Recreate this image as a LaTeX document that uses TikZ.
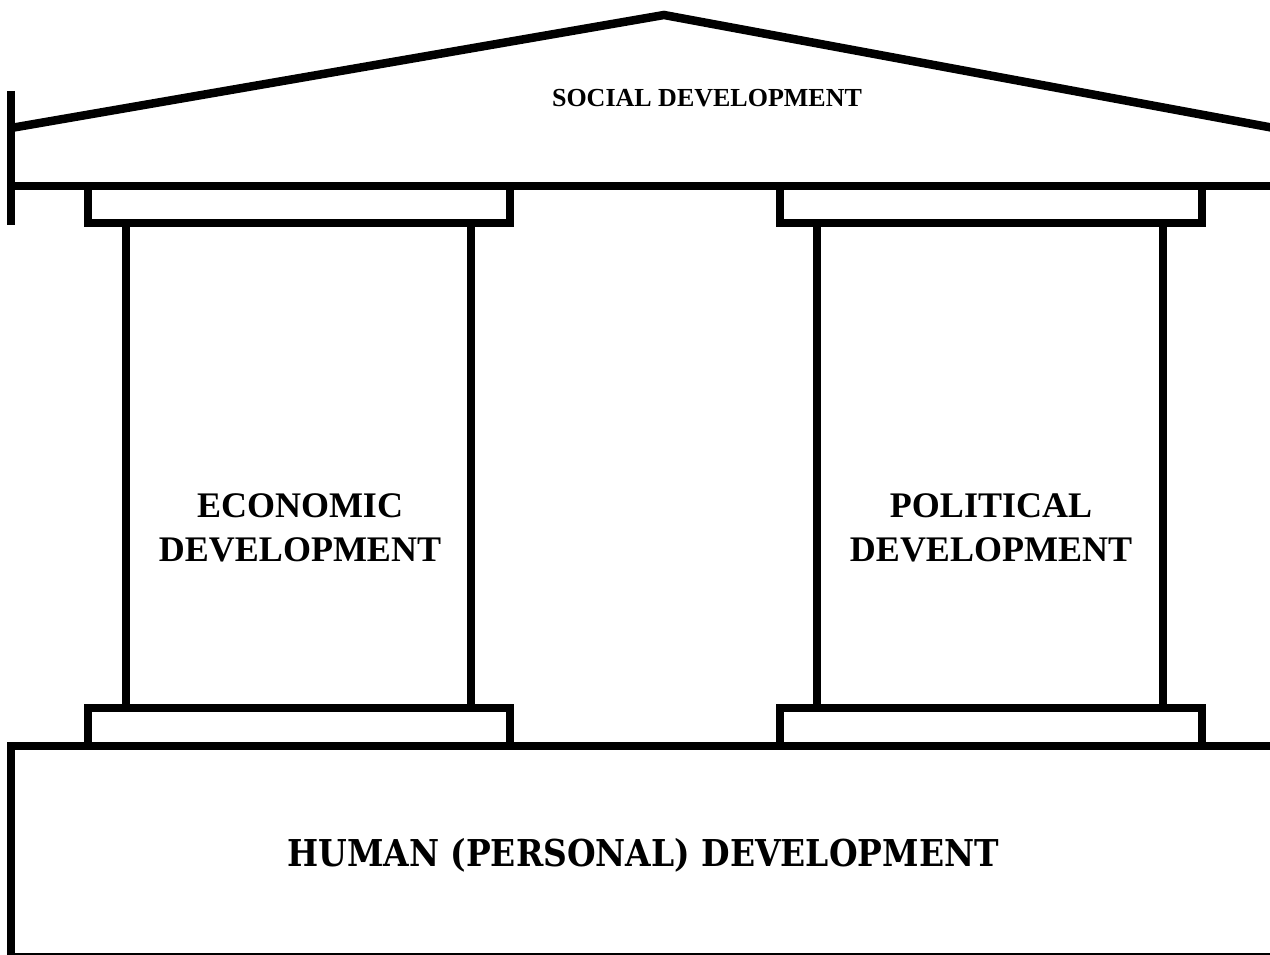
\documentclass[tikz,border=0pt]{standalone}
\usepackage{fontspec}
\setmainfont{Liberation Serif}
\newfontfamily\slabfont{DejaVu Serif}[FakeStretch=0.89]
\begin{document}
\begin{tikzpicture}[x=1pt,y=-1pt,
  wall/.style={line width=8.5pt,line join=miter,draw=black},
  block/.style={wall,fill=white},
  roofsign/.style={font=\bfseries\fontsize{26}{31}\selectfont},
  pillarsign/.style={font=\bfseries\fontsize{36}{44}\selectfont,align=center},
  basesign/.style={font=\slabfont\bfseries\fontsize{37}{44}\selectfont}]
\useasboundingbox (0,0) rectangle (1270,955);
\clip (0,0) rectangle (1270,955);
\fill[white] (0,0) rectangle (1270,955);

% foundation block
\draw[wall] (11,746) -- (11,957) -- (1290,957) -- (1290,746) -- cycle;

% pediment: post, roof slopes and architrave beam
\draw[wall] (11,91) -- (11,225);
\draw[wall] (11,128) -- (664,15) -- (1290,131);
\draw[wall] (11,186) -- (1290,186);

% left pillar: capital, shaft, plinth
\draw[block] (88,186) rectangle (510,223);
\draw[wall] (126,223) rectangle (471,708);
\draw[block] (88,708) rectangle (510,746);

% right pillar: capital, shaft, plinth
\draw[block] (780,186) rectangle (1202,223);
\draw[wall] (817,223) rectangle (1163,708);
\draw[block] (780,708) rectangle (1202,746);

% labels
\node[roofsign] (social) at (707,98) {SOCIAL DEVELOPMENT};
\node[pillarsign] (economic) at (300,528) {ECONOMIC\\DEVELOPMENT};
\node[pillarsign] (political) at (991,528) {POLITICAL\\DEVELOPMENT};
\node[basesign] (human) at (643,855) {HUMAN (PERSONAL) DEVELOPMENT};
\end{tikzpicture}
\end{document}
